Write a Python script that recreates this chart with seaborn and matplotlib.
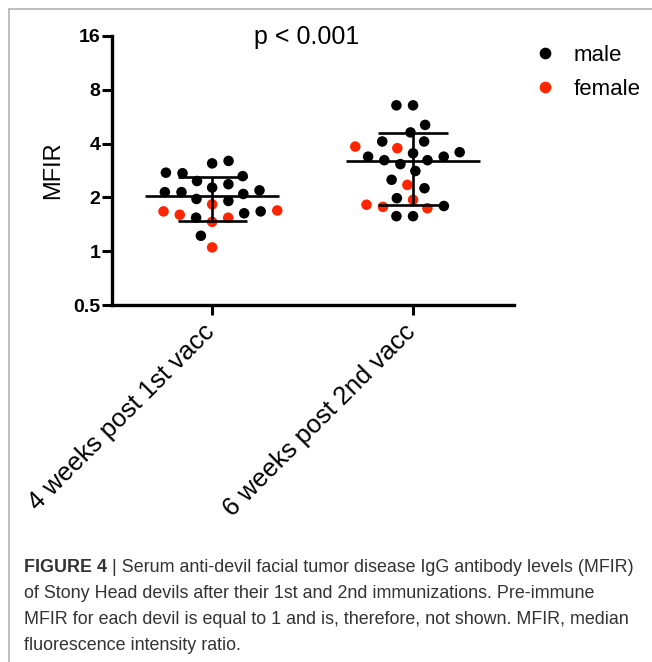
import numpy as np
import pandas as pd
import matplotlib
matplotlib.use("Agg")
import matplotlib.pyplot as plt
from matplotlib.lines import Line2D
from matplotlib.transforms import ScaledTranslation
import seaborn as sns

# MFIR per devil
groups = ["4 weeks post 1st vacc", "6 weeks post 2nd vacc"]
male_1st = [3.10, 3.20, 2.75, 2.63, 2.73, 2.47, 2.27, 2.14, 2.09, 1.91,
            1.96, 2.14, 2.19, 2.37, 1.63, 1.54, 1.67, 1.22]
female_1st = [1.83, 1.67, 1.54, 1.46, 1.60, 1.69, 1.05]
male_2nd = [6.55, 6.55, 5.09, 4.62, 4.11, 4.11, 3.58, 3.38, 3.07, 3.23,
            3.23, 3.38, 3.53, 2.81, 2.51, 2.25, 1.98, 1.79, 1.57, 1.57]
female_2nd = [3.77, 3.85, 2.35, 1.82, 1.74, 1.77, 1.94]
sexes = ["male", "female"]
sex_colors = {"male": "#000000", "female": "#fe2600"}
y_ticks = [0.5, 1, 2, 4, 8, 16]
y_ticklabels = ["0.5", "1", "2", "4", "8", "16"]
p_label = "p < 0.001"
caption_title = "FIGURE 4"
caption_lines = [" | Serum anti-devil facial tumor disease IgG antibody levels (MFIR)",
                 "of Stony Head devils after their 1st and 2nd immunizations. Pre-immune",
                 "MFIR for each devil is equal to 1 and is, therefore, not shown. MFIR, median",
                 "fluorescence intensity ratio."]

rows = []
for g, m, f in zip(groups, [male_1st, male_2nd], [female_1st, female_2nd]):
    rows += [(g, "male", v) for v in m]
    rows += [(g, "female", v) for v in f]
df = pd.DataFrame(rows, columns=["group", "sex", "MFIR"])

sns.set_style("ticks")
plt.rcParams["font.family"] = ["Liberation Sans", "DejaVu Sans"]
plt.rcParams.update({"text.color": "black", "axes.labelcolor": "black",
                     "xtick.color": "black", "ytick.color": "black",
                     "axes.edgecolor": "black"})

W, H = 652, 662
fig = plt.figure(figsize=(W / 100, H / 100), dpi=100)
ax = fig.add_axes([111.7 / W, 1 - 305 / H, (513.5 - 111.7) / W, (305 - 36) / H])

sns.swarmplot(data=df, x="group", y="MFIR", hue="sex", order=groups,
              hue_order=sexes, palette=sex_colors, size=9.5, linewidth=1.9,
              edgecolor="white", log_scale=2, legend=False, ax=ax, zorder=3)

ax.set_ylim(0.5, 16)
ax.set_yticks(y_ticks)
ax.set_yticklabels(y_ticklabels)
ax.yaxis.set_minor_locator(matplotlib.ticker.NullLocator())
ax.set_xlim(-0.5, 1.5)

# mean +/- SD
stats = df.groupby("group", sort=False)["MFIR"].agg(["mean", "std"]).reindex(groups)
for i, (mean, sd) in enumerate(zip(stats["mean"], stats["std"])):
    ax.hlines(mean, i - 0.333, i + 0.333, color="black", lw=1.9, zorder=5)
    ax.hlines([mean - sd, mean + sd], i - 0.172, i + 0.172, color="black", lw=1.9, zorder=5)
    ax.vlines(i, mean - sd, mean + sd, color="black", lw=1.9, zorder=5)

sns.despine(ax=ax)
for s in ["left", "bottom"]:
    ax.spines[s].set_linewidth(2.4)
ax.tick_params(axis="both", length=7, width=2.2, color="black")
ax.tick_params(axis="y", labelsize=14, pad=1)
for lbl in ax.get_yticklabels():
    lbl.set_fontweight("bold")
shift = ScaledTranslation(5 / 72, 0, fig.dpi_scale_trans)
for lbl in ax.get_xticklabels():
    lbl.set_rotation(45)
    lbl.set_ha("right")
    lbl.set_fontsize(18.5)
    lbl.set_transform(lbl.get_transform() + shift)
ax.set_xlabel("")
ax.set_ylabel("MFIR", fontsize=17, va="center")
ax.yaxis.set_label_coords(-0.146, 0.5)

fig.text(307 / W, 1 - 37 / H, p_label, ha="center", va="center", fontsize=18)

handles = [Line2D([], [], marker="o", ls="", color=sex_colors[s], markersize=7.4) for s in sexes]
fig.legend(handles, sexes, loc="upper left", bbox_to_anchor=(534 / W, 1 - 45 / H),
           frameon=False, fontsize=16, handlelength=1.0, handletextpad=0.8,
           labelspacing=0.58, borderpad=0, borderaxespad=0)

# frame lines
fig.add_artist(Line2D([9 / W, 1], [1 - 9 / H] * 2, transform=fig.transFigure, color="#b4b4b4", lw=1.2))
fig.add_artist(Line2D([9 / W] * 2, [0, 1 - 9 / H], transform=fig.transFigure, color="#b4b4b4", lw=1.2))

# caption
cap_family = ["Liberation Sans", "DejaVu Sans"]
cap_size = 12.9
cap_color = "#333333"
cap_y = [568, 594, 620, 645]
renderer = fig.canvas.get_renderer()
t = fig.text(24 / W, 1 - cap_y[0] / H, caption_title, fontsize=cap_size, fontweight="bold",
             family=cap_family, color=cap_color, va="center")
bb = t.get_window_extent(renderer)
fig.text(bb.x1 / W, 1 - cap_y[0] / H, caption_lines[0], fontsize=cap_size,
         family=cap_family, color=cap_color, va="center")
for line, y in zip(caption_lines[1:], cap_y[1:]):
    fig.text(24 / W, 1 - y / H, line, fontsize=cap_size, family=cap_family, color=cap_color, va="center")

fig.savefig("out.png", dpi=100)
